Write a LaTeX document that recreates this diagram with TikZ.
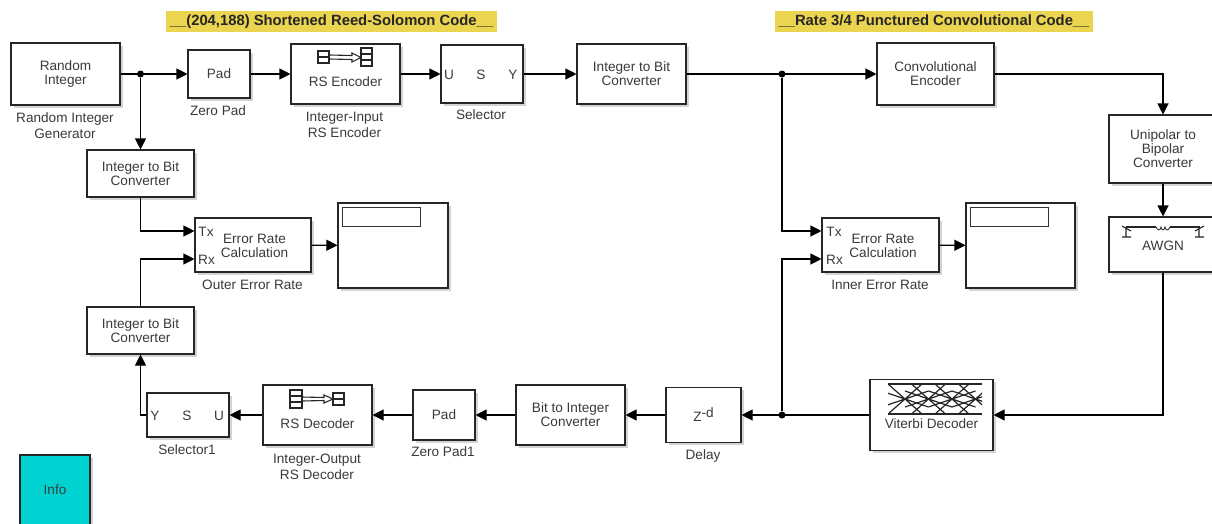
\documentclass[tikz,border=0pt]{standalone}
\usepackage{fontspec}
\setmainfont{Liberation Sans}
\usetikzlibrary{arrows.meta,shadows}
\definecolor{txtgray}{HTML}{3A3A3A}
\definecolor{titleyellow}{HTML}{EBD44F}
\definecolor{infocyan}{HTML}{00D2D2}

\begin{document}
\begin{tikzpicture}[x=1pt,y=-1pt]
\useasboundingbox (0,0) rectangle (1212,523);
\tikzstyle{every node}=[font=\fontsize{13.6}{14}\selectfont,text=txtgray,align=center,inner sep=0pt];
\tikzstyle{block}=[draw=black!85,line width=1.1pt,fill=white,drop shadow={shadow xshift=2.5pt,shadow yshift=-2.5pt,opacity=.35}];
\tikzstyle{txt}=[yshift=-1pt];
\tikzstyle{lbl}=[yshift=-1pt,font=\fontsize{13.6}{16}\selectfont];
\tikzstyle{title}=[fill=titleyellow,font=\fontsize{14.8}{16}\selectfont\bfseries,text=black!85];
\tikzstyle{dot}=[circle,fill=black,minimum size=7pt];
\tikzstyle{wire}=[line width=1.1pt,-{Triangle[length=11pt,width=11pt]}];
\tikzstyle{icon}=[line width=1.1pt,black!85];

\path (331.5,21.5) node (t1) [title,minimum width=331,minimum height=21] {\_\_(204,188) Shortened Reed-Solomon Code\_\_};
\path (934,21.5) node (t2) [title,minimum width=318,minimum height=21] {\_\_Rate 3/4 Punctured Convolutional Code\_\_};

% top row
\path (65.5,74) node (rand) [block,minimum width=109,minimum height=62] {Random\\Integer};
\path (219,74) node (pad) [block,minimum width=62,minimum height=48] {Pad};
\path (345.5,74) node (rsenc) [block,minimum width=109,minimum height=60] {};
\path (482,74) node (sel) [block,minimum width=82,minimum height=58] {};
\path (631.5,74) node (itob) [block,minimum width=109,minimum height=60] {Integer to Bit\\Converter};
\path (935.5,74) node (conv) [block,minimum width=117,minimum height=62] {Convolutional\\Encoder};
\path (1163,149) node (unip) [block,minimum width=108,minimum height=68] {Unipolar to\\Bipolar\\Converter};
\path (1163,244.5) node (awgn) [block,minimum width=108,minimum height=55] {};

% left side
\path (140.5,173.5) node (itob1) [block,minimum width=107,minimum height=47] {Integer to Bit\\Converter};
\path (140.5,330.5) node (itob2) [block,minimum width=107,minimum height=47] {Integer to Bit\\Converter};
\path (253,245) node (err1) [block,minimum width=116,minimum height=54] {};
\path (393,245.5) node (disp1) [block,minimum width=110,minimum height=85] {};
\path (381,216.5) node (win1) [draw=black!80,line width=1pt,minimum width=78,minimum height=19] {};

% right side
\path (880.5,245) node (err2) [block,minimum width=117,minimum height=54] {};
\path (1020.5,245.5) node (disp2) [block,minimum width=109,minimum height=85] {};
\path (1009,216.5) node (win2) [draw=black!80,line width=1pt,minimum width=78,minimum height=19] {};

% bottom row
\path (931.5,415) node (vit) [block,minimum width=123,minimum height=71] {};
\path (703.5,415) node (delay) [block,minimum width=75,minimum height=55] {Z\raisebox{4pt}{-d}};
\path (570.5,415) node (btoi) [block,minimum width=109,minimum height=60] {Bit to Integer\\Converter};
\path (444,415) node (pad1) [block,minimum width=62,minimum height=50] {Pad};
\path (317.5,415) node (rsdec) [block,minimum width=109,minimum height=60] {};
\path (188,415) node (sel1) [block,minimum width=82,minimum height=44] {};
\path (55,490) node (info) [block,fill=infocyan,minimum width=70,minimum height=70] {Info};

% texts inside blocks
\path (345.5,81) node (a1) [txt] {RS Encoder};
\path (317.5,423) node (a2) [txt] {RS Decoder};
\path (931.5,423) node (a3) [txt] {Viterbi Decoder};
\path (1163,245) node (a4) [txt] {AWGN};
\path (254.5,245) node (a5) [txt] {Error Rate\\Calculation};
\path (883,245) node (a6) [txt] {Error Rate\\Calculation};
\path (206,231) node (tx1) [txt] {Tx};
\path (206.5,259) node (rx1) [txt] {Rx};
\path (834,231) node (tx2) [txt] {Tx};
\path (834.5,259) node (rx2) [txt] {Rx};
\path (449,74) node (su) [txt] {U};
\path (481,74) node (ss) [txt] {S};
\path (513,74) node (sy) [txt] {Y};
\path (155,415) node (s1y) [txt] {Y};
\path (187,415) node (s1s) [txt] {S};
\path (219,415) node (s1u) [txt] {U};

% labels under blocks
\path (65,125) node (l1) [lbl] {Random Integer\\Generator};
\path (218,110) node (l2) [lbl] {Zero Pad};
\path (344.5,124) node (l3) [lbl] {Integer-Input\\RS Encoder};
\path (481,114) node (l4) [lbl] {Selector};
\path (252.5,284) node (l5) [lbl] {Outer Error Rate};
\path (880,284) node (l6) [lbl] {Inner Error Rate};
\path (187,449) node (l7) [lbl] {Selector1};
\path (317,466) node (l8) [lbl] {Integer-Output\\RS Decoder};
\path (443,451) node (l9) [lbl] {Zero Pad1};
\path (703,455) node (l10) [lbl] {Delay};

% junctions
\path (140.5,74) node (j1) [dot] {};
\path (782,74) node (j2) [dot] {};
\path (782,415) node (j3) [dot] {};
\coordinate (tx1p) at (err1.west |- 0,231);
\coordinate (rx1p) at (err1.west |- 0,259);
\coordinate (tx2p) at (err2.west |- 0,231);
\coordinate (rx2p) at (err2.west |- 0,259);
\coordinate (c1) at (1163,74);
\coordinate (c2) at (1163,415);
\coordinate (c3) at (140.5,415);

\draw[wire] (rand) -- (pad);
\draw[wire] (pad) -- (rsenc);
\draw[wire] (rsenc) -- (sel);
\draw[wire] (sel) -- (itob);
\draw[wire] (itob) -- (conv);
\draw[wire] (conv) -- (c1) -- (unip);
\draw[wire] (unip) -- (awgn);
\draw[wire] (awgn) -- (c2) -- (vit);
\draw[wire] (vit) -- (delay);
\draw[wire] (delay) -- (btoi);
\draw[wire] (btoi) -- (pad1);
\draw[wire] (pad1) -- (rsdec);
\draw[wire] (rsdec) -- (sel1);
\draw[wire] (sel1) -- (c3) -- (itob2);
\draw[wire] (j1) -- (itob1);
\draw[wire] (itob1) |- (tx1p);
\draw[wire] (itob2) |- (rx1p);
\draw[wire] (j2) |- (tx2p);
\draw[wire] (j3) |- (rx2p);
\draw[wire] (err1) -- (disp1);
\draw[wire] (err2) -- (disp2);

% RS encoder and decoder icons
\draw[icon] (318,51) rectangle (329,63) (318,57) -- (329,57);
\draw[icon] (361,48) rectangle (372,66) (361,54) -- (372,54) (361,60) -- (372,60);
\draw[icon] (329,55) -- (352,55.5) -- (352,53) -- (361,57.5) -- (352,62) -- (352,59.5) -- (329,59);
\draw[icon] (290,390) rectangle (302,408) (290,396) -- (302,396) (290,402) -- (302,402);
\draw[icon] (333,393) rectangle (344,405) (333,399) -- (344,399);
\draw[icon] (302,397) -- (324,397.5) -- (324,395) -- (333,399) -- (324,403) -- (324,400.5) -- (302,401);

% AWGN icon
\draw[icon] (1126,227) -- (1156,227) (1170,227) -- (1200,227);
\draw[icon,line width=.8pt] (1156,227) .. controls (1158,231) and (1160,231) .. (1161,227) .. controls (1162,231) and (1164,231) .. (1165,227) .. controls (1166,231) and (1168,231) .. (1170,227);
\draw[icon] (1122,226) -- (1131,231) (1126,227) -- (1126,237) (1122,237) -- (1131,237);
\draw[icon] (1204,226) -- (1195,231) (1199,227) -- (1199,237) (1195,237) -- (1204,237);

% trellis
\draw[icon] (888,384) -- (982,384) (888,414) -- (982,414);
\begin{scope}
\clip (888,384) rectangle (982,414);
\foreach \i in {0,1,2,3}
{
   \path (905+\i*23.5,399) coordinate (n);
   \draw[icon,line width=1.2pt] (n) -- +(-17,-15) (n) -- +(17,-15) (n) -- +(-17,15) (n) -- +(17,15)
   (n) -- +(-23.5,-8) (n) -- +(23.5,-8) (n) -- +(-23.5,8) (n) -- +(23.5,8);
}
\end{scope}
\end{tikzpicture}
\end{document}
